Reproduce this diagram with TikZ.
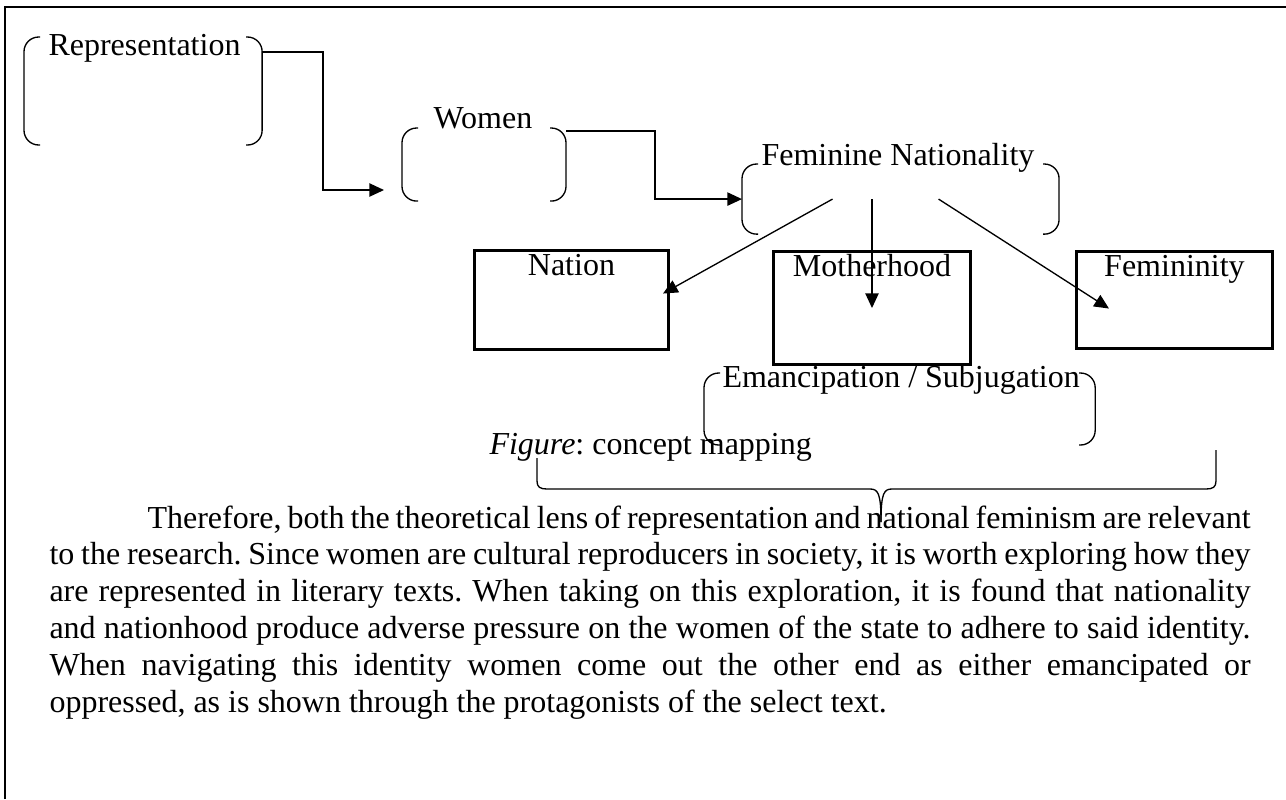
\documentclass[tikz,border=0pt]{standalone}
\usepackage{fontspec}
\setmainfont{Liberation Serif}
\usetikzlibrary{arrows.meta, positioning}
\frenchspacing

\begin{document}
\begin{tikzpicture}[x=0.375pt, y=-0.375pt,
  font=\fontsize{12pt}{13.8pt}\selectfont\frenchspacing,
  conn/.style={-{Triangle[length=5.5pt,width=5pt]}, line width=0.5pt},
  brk/.style={line width=0.5pt, rounded corners=5.5pt},
  brkbox/.style={inner sep=0pt, anchor=north west},
  conbox/.style={draw, line width=1.1pt, inner sep=0pt, anchor=north west, text height=9.5pt},
  lbl/.style={inner sep=0pt, anchor=base west}]
  \useasboundingbox (0,0) rectangle (1286,799);

  % frame
  \draw[line width=1.1pt] (5,799) -- (5,7) -- (1286,7);

  % bracketed concepts
  \node[brkbox, minimum width=88.9pt, minimum height=40.1pt] (repr) at (24,37) {};
  \node[brkbox, minimum width=61.1pt, minimum height=27pt] (women) at (402,128) {};
  \node[brkbox, minimum width=118.5pt, minimum height=25.9pt] (femnat) at (742,164) {};
  \node[brkbox, minimum width=146.3pt, minimum height=26.6pt] (eman) at (704,373) {};
  \foreach \n in {repr, women, femnat, eman} {
    \draw[brk] ([xshift=6pt]\n.north west) -- (\n.north west) -- (\n.south west) -- ([xshift=6pt]\n.south west);
    \draw[brk] ([xshift=-6pt]\n.north east) -- (\n.north east) -- (\n.south east) -- ([xshift=-6pt]\n.south east);
  }
  \node[lbl] (reprtxt) at (48,55) {Representation};
  \node[lbl] (womentxt) at (433,128) {Women};
  \node[lbl] (femnattxt) at (761,165) {Feminine Nationality};
  \node[lbl] (emantxt) at (722,387) {Emancipation / Subjugation};

  % boxes
  \node[conbox, minimum width=72.75pt, text depth=27.6pt] (nation) at (473,249) {Nation};
  \node[conbox, minimum width=73.9pt, text depth=32.9pt] (mother) at (772,250) {Motherhood};
  \node[conbox, minimum width=73.5pt, text depth=26.9pt] (femin) at (1075,250) {Femininity};

  % connectors
  \coordinate (womenin) at (384,190);
  \draw[conn] ([yshift=-5.6pt]repr.north east) -| ([xshift=-22.9pt]womenin) -- (womenin);
  \draw[conn] ([yshift=-1.1pt]women.north east) -| ([xshift=-32.6pt]femnat.west) -- (femnat.west);
  \draw[conn] ([xshift=-25.5pt]femnat.center) -- ([xshift=-2.6pt,yshift=2.4pt]nation.east);
  \draw[conn] (mother.center |- femnat.center) -- (mother.center);
  \draw[conn] ([xshift=14.25pt]femnat.center) -- ([xshift=12.75pt,yshift=-3.2pt]femin.west);

  % brace and caption
  \draw[line width=0.5pt] (537,458) -- (537,481) .. controls (537,487) and (540,489) .. (547,489)
    -- (870,489) .. controls (878,489) and (881,493) .. (881,522);
  \draw[line width=0.5pt] (1216,450) -- (1216,481) .. controls (1216,487) and (1213,489) .. (1206,489)
    -- (892,489) .. controls (884,489) and (881,493) .. (881,522);
  \node[lbl] (caption) at (489,454) {\textit{Figure}: concept mapping};

  % text
  \node[inner sep=0pt, anchor=base west, text width=450.4pt, align=justify] (para) at (49,528)
    {\tolerance=9999\hyphenpenalty=10000\emergencystretch=3em
     \hspace*{36.75pt}Therefore, both the theoretical lens of representation and national feminism are relevant\linebreak
     to the research. Since women are cultural reproducers in society, it is worth exploring how they\linebreak
     are represented in literary texts. When taking on this exploration, it is found that nationality\linebreak
     and nationhood produce adverse pressure on the women of the state to adhere to said identity.\linebreak
     When navigating this identity women come out the other end as either emancipated or\linebreak
     oppressed, as is shown through the protagonists of the select text.};
\end{tikzpicture}
\end{document}
